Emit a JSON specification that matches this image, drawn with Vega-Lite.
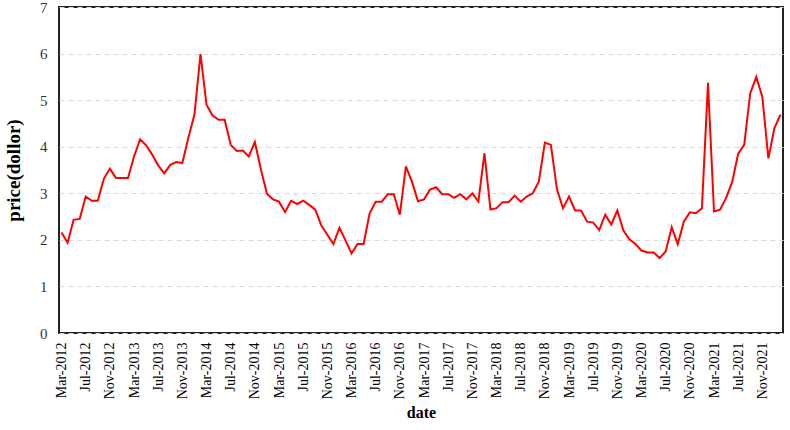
{
  "$schema": "https://vega.github.io/schema/vega-lite/v6.json",
  "width": 724,
  "height": 326,
  "autosize": {"type": "none"},
  "padding": {"left": 59, "top": 7, "right": 7, "bottom": 97},
  "background": "white",
  "config": {
    "font": "Liberation Serif",
    "view": {"stroke": "#222222", "strokeWidth": 2}
  },
  "data": {
    "values": [
      {"date": "Mar-2012", "price": 2.16}, {"date": "Apr-2012", "price": 1.94}, {"date": "May-2012", "price": 2.43}, {"date": "Jun-2012", "price": 2.45}, {"date": "Jul-2012", "price": 2.93}, {"date": "Aug-2012", "price": 2.84}, {"date": "Sep-2012", "price": 2.84}, {"date": "Oct-2012", "price": 3.31}, {"date": "Nov-2012", "price": 3.53}, {"date": "Dec-2012", "price": 3.33},
      {"date": "Jan-2013", "price": 3.33}, {"date": "Feb-2013", "price": 3.33}, {"date": "Mar-2013", "price": 3.79}, {"date": "Apr-2013", "price": 4.16}, {"date": "May-2013", "price": 4.03}, {"date": "Jun-2013", "price": 3.83}, {"date": "Jul-2013", "price": 3.6}, {"date": "Aug-2013", "price": 3.43}, {"date": "Sep-2013", "price": 3.61}, {"date": "Oct-2013", "price": 3.67}, {"date": "Nov-2013", "price": 3.65}, {"date": "Dec-2013", "price": 4.2},
      {"date": "Jan-2014", "price": 4.69}, {"date": "Feb-2014", "price": 5.99}, {"date": "Mar-2014", "price": 4.9}, {"date": "Apr-2014", "price": 4.67}, {"date": "May-2014", "price": 4.58}, {"date": "Jun-2014", "price": 4.58}, {"date": "Jul-2014", "price": 4.04}, {"date": "Aug-2014", "price": 3.91}, {"date": "Sep-2014", "price": 3.92}, {"date": "Oct-2014", "price": 3.79}, {"date": "Nov-2014", "price": 4.1}, {"date": "Dec-2014", "price": 3.51},
      {"date": "Jan-2015", "price": 2.99}, {"date": "Feb-2015", "price": 2.87}, {"date": "Mar-2015", "price": 2.82}, {"date": "Apr-2015", "price": 2.6}, {"date": "May-2015", "price": 2.84}, {"date": "Jun-2015", "price": 2.77}, {"date": "Jul-2015", "price": 2.84}, {"date": "Aug-2015", "price": 2.75}, {"date": "Sep-2015", "price": 2.65}, {"date": "Oct-2015", "price": 2.31}, {"date": "Nov-2015", "price": 2.11}, {"date": "Dec-2015", "price": 1.91},
      {"date": "Jan-2016", "price": 2.26}, {"date": "Feb-2016", "price": 1.99}, {"date": "Mar-2016", "price": 1.71}, {"date": "Apr-2016", "price": 1.91}, {"date": "May-2016", "price": 1.91}, {"date": "Jun-2016", "price": 2.57}, {"date": "Jul-2016", "price": 2.82}, {"date": "Aug-2016", "price": 2.82}, {"date": "Sep-2016", "price": 2.98}, {"date": "Oct-2016", "price": 2.98}, {"date": "Nov-2016", "price": 2.54}, {"date": "Dec-2016", "price": 3.58},
      {"date": "Jan-2017", "price": 3.25}, {"date": "Feb-2017", "price": 2.83}, {"date": "Mar-2017", "price": 2.87}, {"date": "Apr-2017", "price": 3.08}, {"date": "May-2017", "price": 3.13}, {"date": "Jun-2017", "price": 2.98}, {"date": "Jul-2017", "price": 2.98}, {"date": "Aug-2017", "price": 2.9}, {"date": "Sep-2017", "price": 2.98}, {"date": "Oct-2017", "price": 2.87}, {"date": "Nov-2017", "price": 3.0}, {"date": "Dec-2017", "price": 2.82},
      {"date": "Jan-2018", "price": 3.86}, {"date": "Feb-2018", "price": 2.65}, {"date": "Mar-2018", "price": 2.68}, {"date": "Apr-2018", "price": 2.81}, {"date": "May-2018", "price": 2.81}, {"date": "Jun-2018", "price": 2.95}, {"date": "Jul-2018", "price": 2.82}, {"date": "Aug-2018", "price": 2.93}, {"date": "Sep-2018", "price": 3.0}, {"date": "Oct-2018", "price": 3.25}, {"date": "Nov-2018", "price": 4.09}, {"date": "Dec-2018", "price": 4.04},
      {"date": "Jan-2019", "price": 3.09}, {"date": "Feb-2019", "price": 2.68}, {"date": "Mar-2019", "price": 2.93}, {"date": "Apr-2019", "price": 2.63}, {"date": "May-2019", "price": 2.63}, {"date": "Jun-2019", "price": 2.39}, {"date": "Jul-2019", "price": 2.37}, {"date": "Aug-2019", "price": 2.21}, {"date": "Sep-2019", "price": 2.54}, {"date": "Oct-2019", "price": 2.33}, {"date": "Nov-2019", "price": 2.63}, {"date": "Dec-2019", "price": 2.2},
      {"date": "Jan-2020", "price": 2.01}, {"date": "Feb-2020", "price": 1.91}, {"date": "Mar-2020", "price": 1.77}, {"date": "Apr-2020", "price": 1.73}, {"date": "May-2020", "price": 1.73}, {"date": "Jun-2020", "price": 1.61}, {"date": "Jul-2020", "price": 1.75}, {"date": "Aug-2020", "price": 2.27}, {"date": "Sep-2020", "price": 1.91}, {"date": "Oct-2020", "price": 2.39}, {"date": "Nov-2020", "price": 2.59}, {"date": "Dec-2020", "price": 2.57},
      {"date": "Jan-2021", "price": 2.68}, {"date": "Feb-2021", "price": 5.37}, {"date": "Mar-2021", "price": 2.61}, {"date": "Apr-2021", "price": 2.65}, {"date": "May-2021", "price": 2.9}, {"date": "Jun-2021", "price": 3.24}, {"date": "Jul-2021", "price": 3.85}, {"date": "Aug-2021", "price": 4.04}, {"date": "Sep-2021", "price": 5.15}, {"date": "Oct-2021", "price": 5.5}, {"date": "Nov-2021", "price": 5.07}, {"date": "Dec-2021", "price": 3.75},
      {"date": "Jan-2022", "price": 4.4}, {"date": "Feb-2022", "price": 4.69}
    ]
  },
  "mark": {"type": "line", "color": "#ff0000", "strokeWidth": 2},
  "encoding": {
    "x": {
      "field": "date",
      "type": "ordinal",
      "sort": null,
      "scale": {"type": "point", "padding": 0.42},
      "axis": {
        "title": "date",
        "titleFont": "Liberation Serif",
        "titleFontSize": 16,
        "titleFontWeight": "bold",
        "titleColor": "#000000",
        "titlePadding": 6,
        "labelAngle": -90,
        "labelFont": "Liberation Serif",
        "labelFontSize": 14,
        "labelColor": "#000000",
        "labelPadding": 9,
        "labelOverlap": false,
        "labelBound": false,
        "labelExpr": "indexof(['Mar','Jul','Nov'], slice(datum.value,0,3)) >= 0 ? datum.value : ''",
        "ticks": false,
        "domain": false,
        "grid": false
      }
    },
    "y": {
      "field": "price",
      "type": "quantitative",
      "scale": {"domain": [0, 7], "nice": false, "zero": true},
      "axis": {
        "title": "price(dollor)",
        "titleFont": "Liberation Serif",
        "titleFontSize": 19,
        "titleFontWeight": "bold",
        "titleColor": "#000000",
        "titlePadding": 16,
        "values": [0, 1, 2, 3, 4, 5, 6, 7],
        "labelFont": "Liberation Serif",
        "labelFontSize": 15,
        "labelColor": "#333333",
        "labelPadding": 12,
        "ticks": false,
        "domain": false,
        "grid": true,
        "gridColor": "#d9d9d9",
        "gridDash": [5, 4],
        "gridWidth": 1
      }
    }
  }
}
